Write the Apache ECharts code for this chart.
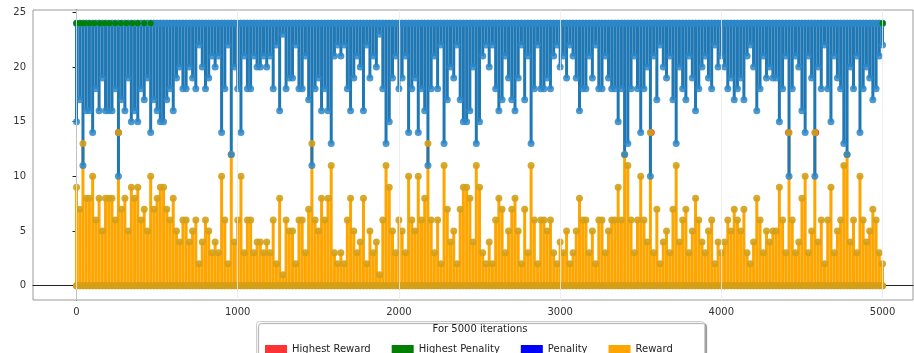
<!DOCTYPE html>
<html>
<head>
    <meta charset="utf-8">
    <title>Reward / Penality per iteration</title>
    <script src="https://cdn.jsdelivr.net/npm/echarts@6/dist/echarts.min.js"></script>
    <style>
        body { margin: 0; background: #fff; }
    </style>
</head>
<body>
    <div id="main" style="width: 914px;height:353px;"></div>
    <script type="text/javascript">
        // data, one value per 20 iterations (highest reward / lowest penality in the bin)
        var binStep = 20;
        var rewardPerBin = [
            9,7,13,8,8,10,6,8,5,8,8,8,6,14,7,8,5,9,8,9,6,7,5,10,7,8,9,
            9,7,6,8,5,4,6,6,4,5,6,2,4,6,5,3,4,3,10,6,2,12,4,6,10,3,6,6,
            3,4,4,3,4,3,6,2,8,1,6,5,5,2,6,6,3,7,13,6,5,8,6,8,11,3,2,3,
            2,6,8,5,3,4,8,2,5,3,4,1,6,11,9,5,3,6,5,3,10,6,5,10,6,8,13,6,
            3,6,2,11,7,4,5,2,7,9,9,8,4,11,9,3,2,4,2,6,8,7,3,5,7,8,5,2,
            7,3,11,6,2,6,6,5,6,3,2,4,3,5,2,3,5,8,6,6,3,5,2,6,6,3,5,6,
            6,9,6,12,11,6,3,6,10,6,4,14,3,7,2,4,5,3,7,11,4,6,7,3,5,8,6,4,
            3,5,6,2,4,3,4,6,5,7,6,5,7,3,2,4,8,6,3,5,4,5,5,9,6,3,14,6,
            3,4,8,10,3,5,14,4,6,2,6,9,3,5,6,11,12,4,6,3,10,6,4,5,7,6,3,2
        ];
        var penaltyPerBin = [
            15,17,11,16,16,14,18,16,19,16,16,16,18,10,17,16,19,15,16,15,18,17,19,14,17,16,15,
            15,17,18,16,19,20,18,18,20,19,18,22,20,18,19,21,20,21,14,18,22,12,20,18,14,21,18,18,
            21,20,20,21,20,21,18,22,16,23,18,19,19,22,18,18,21,17,11,18,19,16,18,16,13,21,22,21,
            22,18,16,19,21,20,16,22,19,21,20,23,18,13,15,19,21,18,19,21,14,18,19,14,18,16,11,18,
            21,18,22,13,17,20,19,22,17,15,15,16,20,13,15,21,22,20,22,18,16,17,21,19,17,16,19,22,
            17,21,13,18,22,18,18,19,18,21,22,20,21,19,22,21,19,16,18,18,21,19,22,18,18,21,19,18,
            18,15,18,12,13,18,21,18,14,18,20,10,21,17,22,20,19,21,17,13,20,18,17,21,19,16,18,20,
            21,19,18,22,20,21,20,18,19,17,18,19,17,21,22,20,16,18,21,19,20,19,19,15,18,21,10,18,
            21,20,16,14,21,19,10,20,18,22,18,15,21,19,18,13,12,20,18,21,14,18,20,19,17,18,21,22
        ];
        var rewardBase = 0;     // reward sits at 0 between spikes
        var penaltyBase = 24;   // penality sits at 24 between dips

        var highestRewardIters = [260, 3565, 4417, 4585];
        var highestRewardVals = [14, 14, 14, 14];
        var highestPenaltyIters = [0, 25, 50, 80, 110, 145, 175, 205, 240, 275, 310, 345, 380, 420, 460, 5000];
        var highestPenaltyVals = [24, 24, 24, 24, 24, 24, 24, 24, 24, 24, 24, 24, 24, 24, 24, 24];

        var xTicks = [0, 1000, 2000, 3000, 4000, 5000];
        var yTicks = [0, 5, 10, 15, 20, 25];

        var iterations = rewardPerBin.map(function (v, i) { return i * binStep; });

        // each bin is drawn as a stem: baseline -> value -> baseline
        function stems(vals, base) {
            var out = [];
            vals.forEach(function (v, i) {
                var x = iterations[i];
                out.push([x, base], [x, v], [x, base]);
            });
            return out;
        }

        var font = 'DejaVu Sans';
        var plain = function (v) { return String(v); };
        var myChart = echarts.init(document.getElementById('main'), null, {renderer: 'canvas'});

        var option = {
            animation: false,
            grid: {
                left: 33, right: 1, top: 10, bottom: 53,
                show: true, borderColor: '#9a9a9a', borderWidth: 1
            },
            xAxis: {
                type: 'value', min: -270, max: 5189,
                axisLine: {show: true, lineStyle: {color: '#222'}},
                axisTick: {show: true, length: 4, customValues: xTicks, lineStyle: {color: '#222'}},
                axisLabel: {customValues: xTicks, formatter: plain, margin: 7, color: '#333', fontSize: 10, fontFamily: font},
                splitLine: {show: false}
            },
            yAxis: {
                type: 'value', min: -1.31, max: 25.21,
                axisLine: {show: true, lineStyle: {color: '#222'}},
                axisTick: {show: true, length: 4, customValues: yTicks, lineStyle: {color: '#222'}},
                axisLabel: {customValues: yTicks, formatter: plain, margin: 7, color: '#333', fontSize: 10, fontFamily: font},
                splitLine: {show: false}
            },
            legend: {
                left: 260, top: 339,
                icon: 'rect', itemWidth: 22, itemHeight: 8, itemGap: 21,
                selectedMode: false,
                textStyle: {fontSize: 10, color: '#222', fontFamily: font},
                data: [
                    {name: 'Highest Reward', itemStyle: {color: '#ff0000'}},
                    {name: 'Highest Penality', itemStyle: {color: '#008000'}},
                    {name: 'Penality', itemStyle: {color: '#0000ff'}},
                    {name: 'Reward', itemStyle: {color: '#ffa500'}}
                ]
            },
            graphic: [
                {
                    type: 'rect', z: 1,
                    shape: {x: 256.5, y: 321.5, width: 448, height: 40, r: 3},
                    style: {fill: '#fff', stroke: '#cccccc', lineWidth: 1,
                        shadowColor: 'rgba(0,0,0,0.35)', shadowOffsetX: 2, shadowOffsetY: 2, shadowBlur: 1}
                },
                {
                    type: 'text', z: 2,
                    style: {x: 480, y: 329, text: 'For 5000 iterations', align: 'center', verticalAlign: 'middle',
                        fontSize: 10, fontFamily: font, fill: '#222'}
                }
            ],
            series: [
                {
                    name: 'Reward', type: 'line',
                    data: stems(rewardPerBin, rewardBase),
                    showSymbol: true, showAllSymbol: true, symbol: 'circle', symbolSize: 7,
                    itemStyle: {color: 'rgba(212,160,24,0.9)'},
                    lineStyle: {color: '#ffa500', width: 3},
                    emphasis: {disabled: true}
                },
                {
                    name: 'Penality', type: 'line',
                    data: stems(penaltyPerBin, penaltyBase),
                    showSymbol: true, showAllSymbol: true, symbol: 'circle', symbolSize: 7,
                    itemStyle: {color: 'rgba(45,135,200,0.85)'},
                    lineStyle: {color: '#1f77b4', width: 3},
                    emphasis: {disabled: true}
                },
                {
                    name: 'Highest Penality', type: 'line',
                    data: highestPenaltyIters.map(function (x, i) { return [x, highestPenaltyVals[i]]; }),
                    showSymbol: true, showAllSymbol: true, symbol: 'circle', symbolSize: 6,
                    itemStyle: {color: '#008000'},
                    lineStyle: {color: '#008000', width: 3},
                    emphasis: {disabled: true}
                },
                {
                    name: 'Highest Reward', type: 'scatter',
                    data: highestRewardIters.map(function (x, i) { return [x, highestRewardVals[i]]; }),
                    symbol: 'circle', symbolSize: 7,
                    itemStyle: {color: '#ff0000'},
                    emphasis: {disabled: true},
                    // faint vertical grid lines, drawn above the data like in the original
                    markLine: {
                        silent: true, symbol: ['none', 'none'],
                        label: {show: false},
                        lineStyle: {color: 'rgba(235,235,235,0.8)', width: 1, type: 'solid'},
                        data: xTicks.map(function (v) { return {xAxis: v}; })
                    }
                }
            ]
        };

        myChart.setOption(option);
    </script>
</body>
</html>
